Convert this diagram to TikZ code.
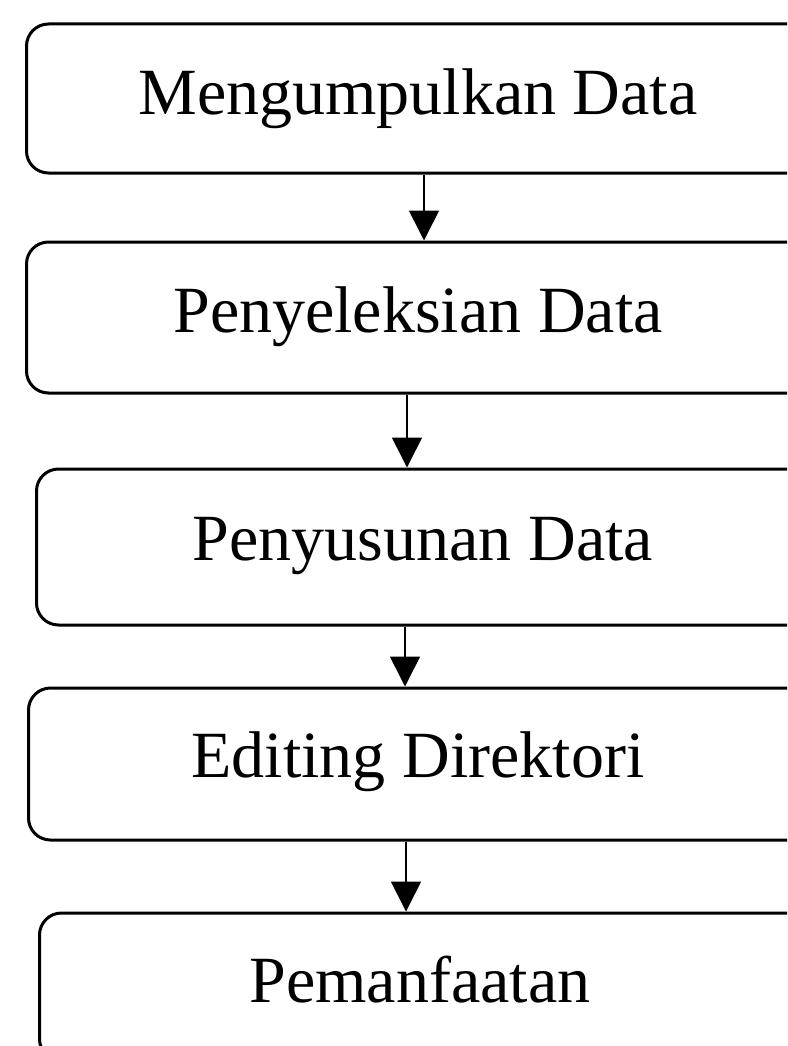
\documentclass[tikz,border=0pt]{standalone}
\usepackage{fontspec}
\setmainfont{Liberation Serif}
\usetikzlibrary{arrows.meta}
\tikzset{
  stepbox/.style={draw=black, line width=3pt, rounded corners=22pt, fill=white,
    inner sep=0pt, anchor=west},
  steptext/.style={inner sep=0pt, text height=45pt, text depth=15pt,
    font=\fontsize{66}{79}\selectfont},
  arr/.style={line width=1.6pt, -{Triangle[width=30pt,length=30pt]}}
}
\begin{document}
\begin{tikzpicture}[x=1pt,y=-1pt]
\useasboundingbox (0,0) rectangle (787,1046);
\fill[white] (0,0) rectangle (787,1046);
\clip (0,0) rectangle (787,1046);
\node[stepbox, minimum width=835pt, minimum height=149pt] (b1) at (25,98.5) {};
\node[stepbox, minimum width=835pt, minimum height=151pt] (b2) at (25,317.5) {};
\node[stepbox, minimum width=825pt, minimum height=156pt] (b3) at (35,547) {};
\node[stepbox, minimum width=833pt, minimum height=152pt] (b4) at (27,764) {};
\node[stepbox, minimum width=822pt, minimum height=148pt] (b5) at (38,987) {};
\node[steptext] (t1) at (418,100) {Mengumpulkan Data};
\node[steptext] (t2) at (418,317) {Penyeleksian Data};
\node[steptext] (t3) at (423,545) {Penyusunan Data};
\node[steptext] (t4) at (418,762) {Editing Direktori};
\node[steptext] (t5) at (420,987) {Pemanfaatan};
\coordinate (x1) at (424,0);
\coordinate (x2) at (407,0);
\coordinate (x3) at (405,0);
\coordinate (x4) at (406,0);
\draw[arr] (b1.south -| x1) -- (b2.north -| x1);
\draw[arr] (b2.south -| x2) -- (b3.north -| x2);
\draw[arr] (b3.south -| x3) -- (b4.north -| x3);
\draw[arr] (b4.south -| x4) -- (b5.north -| x4);
\end{tikzpicture}
\end{document}
